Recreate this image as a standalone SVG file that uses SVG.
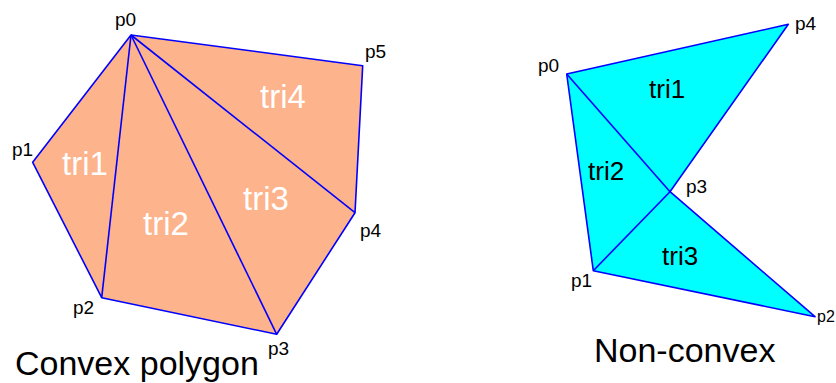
<svg xmlns="http://www.w3.org/2000/svg" width="836" height="383" viewBox="0 0 836 383">
<style>
.lbl{font-family:"Liberation Sans",Arial,sans-serif;font-size:19px;fill:#000}
.tw{font-family:"Liberation Sans",Arial,sans-serif;font-size:33px;fill:#fff}
.tb{font-family:"Liberation Sans",Arial,sans-serif;font-size:26px;fill:#000}
.cap{font-family:"Liberation Sans",Arial,sans-serif;font-size:34px;fill:#000}
.edge{stroke:#0000ff;stroke-width:1.6;fill:none;stroke-linejoin:round}
</style>
<rect width="836" height="383" fill="#fff"/>
<g id="convex">
<polygon points="131,35 362.7,65.7 355,212.7 276.7,334.3 101.7,297.7 32.7,162.3" fill="#fdb38b" stroke="none"/>
<g id="connectors-convex">
<polygon class="edge" points="131,35 362.7,65.7 355,212.7 276.7,334.3 101.7,297.7 32.7,162.3" stroke-width="2"/>
<line class="edge" x1="131" y1="35" x2="101.7" y2="297.7"/>
<line class="edge" x1="131" y1="35" x2="276.7" y2="334.3"/>
<line class="edge" x1="131" y1="35" x2="355" y2="212.7"/>
</g>
<g id="c-p0"><text class="lbl" x="115" y="26">p0</text></g>
<g id="c-p1"><text class="lbl" x="12" y="156">p1</text></g>
<g id="c-p2"><text class="lbl" x="73" y="314">p2</text></g>
<g id="c-p3"><text class="lbl" x="268" y="355">p3</text></g>
<g id="c-p4"><text class="lbl" x="360" y="237">p4</text></g>
<g id="c-p5"><text class="lbl" x="365" y="58">p5</text></g>
<g id="c-tri1"><text class="tw" x="62" y="175">tri1</text></g>
<g id="c-tri2"><text class="tw" x="143" y="235">tri2</text></g>
<g id="c-tri3"><text class="tw" x="243" y="210">tri3</text></g>
<g id="c-tri4"><text class="tw" x="260" y="108">tri4</text></g>
<text class="cap" x="15" y="375">Convex polygon</text>
</g>
<g id="nonconvex">
<polygon points="566.7,74 788.3,24.3 670,191.7 815,316.7 593.3,270.7" fill="#00ffff" stroke="none"/>
<g id="connectors-nonconvex">
<polygon class="edge" points="566.7,74 788.3,24.3 670,191.7 815,316.7 593.3,270.7" stroke-width="2"/>
<line class="edge" x1="566.7" y1="74" x2="670" y2="191.7"/>
<line class="edge" x1="593.3" y1="270.7" x2="670" y2="191.7"/>
</g>
<g id="n-p0"><text class="lbl" x="538" y="72">p0</text></g>
<g id="n-p1"><text class="lbl" x="571" y="287">p1</text></g>
<g id="n-p2"><text class="lbl" x="817" y="322" style="font-size:16px">p2</text></g>
<g id="n-p3"><text class="lbl" x="686" y="193">p3</text></g>
<g id="n-p4"><text class="lbl" x="795" y="30">p4</text></g>
<g id="n-tri1"><text class="tb" x="649" y="98">tri1</text></g>
<g id="n-tri2"><text class="tb" x="588" y="180">tri2</text></g>
<g id="n-tri3"><text class="tb" x="662" y="265">tri3</text></g>
<text class="cap" x="594" y="362">Non-convex</text>
</g>
</svg>
